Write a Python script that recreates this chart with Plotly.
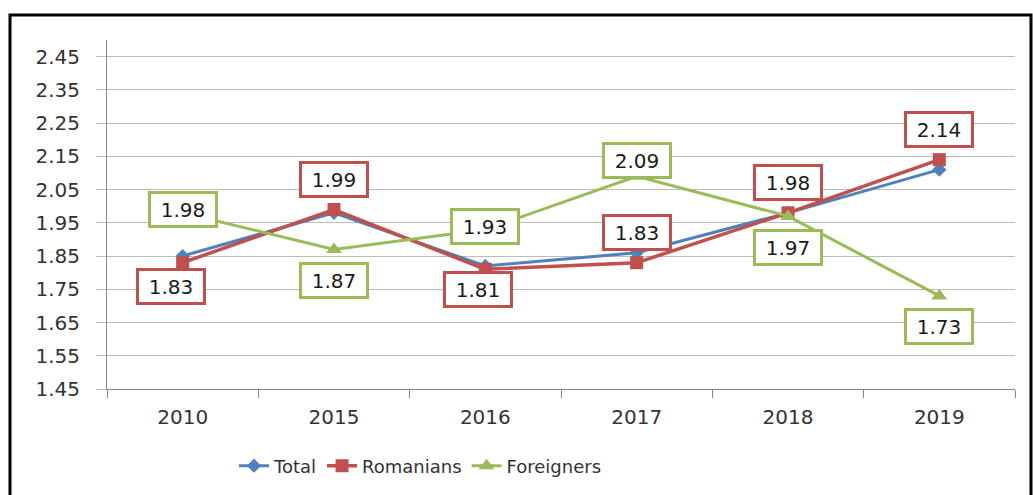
import plotly.graph_objects as go

years = ["2010", "2015", "2016", "2017", "2018", "2019"]
total = [1.85, 1.98, 1.82, 1.86, 1.98, 2.11]
romanians = [1.83, 1.99, 1.81, 1.83, 1.98, 2.14]
foreigners = [1.98, 1.87, 1.93, 2.09, 1.97, 1.73]
y_ticks = [1.45, 1.55, 1.65, 1.75, 1.85, 1.95, 2.05, 2.15, 2.25, 2.35, 2.45]

# label placement (style): where each data label sits relative to its point
rom_place = ["below_left", "above", "below_near", "above", "above", "above"]
for_place = ["on", "below", "on", "above_near", "below", "below"]
place_shift = {
    "above": (0, 30), "below": (0, -31), "on": (0, 3), "above_near": (0, 16),
    "below_left": (-12, -24), "below_near": (-7, -20),
}

BLUE = "#4F81BD"
RED = "#C0504D"
GREEN = "#9BBB59"
FONT = "DejaVu Sans"

fig = go.Figure()
fig.add_trace(go.Scatter(x=years, y=total, name="Total", mode="lines+markers",
                         line=dict(color=BLUE, width=3),
                         marker=dict(symbol="diamond", size=11, color=BLUE)))
fig.add_trace(go.Scatter(x=years, y=romanians, name="Romanians", mode="lines+markers",
                         line=dict(color=RED, width=3.5),
                         marker=dict(symbol="square", size=13, color=RED)))
fig.add_trace(go.Scatter(x=years, y=foreigners, name="Foreigners", mode="lines+markers",
                         line=dict(color=GREEN, width=3),
                         marker=dict(symbol="triangle-up", size=14, color=GREEN)))

annotations = []
for series, places, color in ((romanians, rom_place, RED), (foreigners, for_place, GREEN)):
    for i, (v, p) in enumerate(zip(series, places)):
        dx, dy = place_shift[p]
        annotations.append(dict(
            x=i, y=v, xref="x", yref="y", text=f"{v:.2f}", showarrow=False,
            xshift=dx, yshift=dy, bgcolor="white", bordercolor=color,
            borderwidth=3, borderpad=3, width=58, height=25,
            font=dict(family=FONT, size=20, color="#1a1a1a")))

L, R, T, B = 107, 1015, 40, 390
W, H = 1033, 495
pw, ph = R - L, B - T

def px_x(p):
    return (p - L) / pw

def px_y(p):
    return (B - p) / ph

fig.update_layout(
    width=W, height=H,
    margin=dict(l=L, r=W - R, t=T, b=H - B),
    paper_bgcolor="white", plot_bgcolor="white",
    font=dict(family=FONT, color="#404040"),
    showlegend=True,
    legend=dict(orientation="h", x=px_x(234), xanchor="left", y=px_y(466), yanchor="middle",
                font=dict(family=FONT, size=18, color="#333333"), bgcolor="rgba(0,0,0,0)",
                itemwidth=30, tracegroupgap=0),
    shapes=[dict(type="rect", xref="paper", yref="paper",
                 x0=px_x(10), x1=px_x(1031), y0=px_y(520), y1=px_y(15),
                 line=dict(color="black", width=3), layer="below")],
    xaxis=dict(type="category", showgrid=False, showline=True, linecolor="#888888",
               linewidth=1, ticks="outside", tickson="boundaries", ticklen=8,
               tickcolor="#888888", tickfont=dict(family=FONT, size=20, color="#333333"),
               ticklabelstandoff=10, range=[-0.5, 5.5]),
    yaxis=dict(range=[1.45, 2.5], tickmode="array", tickvals=y_ticks,
               ticktext=[f"{t:.2f}" for t in y_ticks], showgrid=True,
               gridcolor="#BBBBBB", gridwidth=1, showline=True, linecolor="#888888",
               linewidth=1, ticks="outside", ticklen=10, tickcolor="#BBBBBB",
               tickfont=dict(family=FONT, size=20, color="#333333"),
               ticklabelstandoff=12, zeroline=False),
)
for a in annotations:
    fig.add_annotation(**a)

fig.write_html("out.html", config={"displayModeBar": False},
               post_script="document.body.style.margin='0';document.body.style.overflow='hidden';")
